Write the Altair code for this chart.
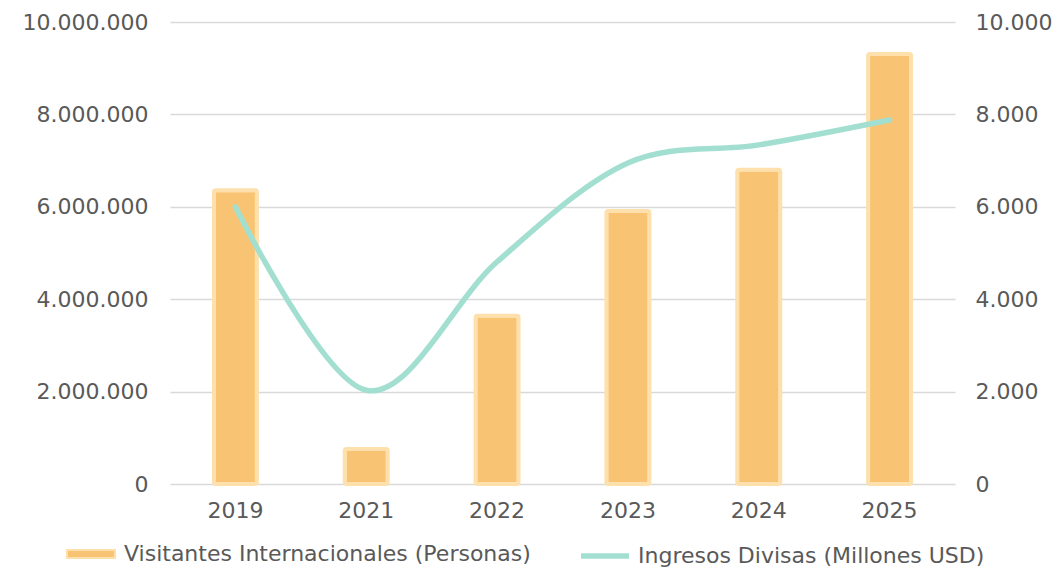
import altair as alt
import pandas as pd

years = ["2019", "2021", "2022", "2023", "2024", "2025"]
visitantes = [6360000, 760000, 3640000, 5910000, 6800000, 9310000]
divisas = [6000, 2030, 4810, 6950, 7340, 7880]

bar_name = "Visitantes Internacionales (Personas)"
line_name = "Ingresos Divisas (Millones USD)"

df = pd.DataFrame({
    "year": years,
    "visitantes": visitantes,
    "divisas": divisas,
    "s_bar": [bar_name] * len(years),
    "s_line": [line_name] * len(years),
})

FONT = "DejaVu Sans"
TXT = "#595959"
ORANGE = "#F8C473"
ORANGE_EDGE = "#FDE0AC"
TEAL = "#A2DFD0"

base = alt.Chart(df)

x = alt.X("year:N", sort=years, title=None,
          scale=alt.Scale(paddingInner=0, paddingOuter=0),
          axis=alt.Axis(domain=False, ticks=False, labelAngle=0, labelPadding=16,
                        labelFontSize=22, labelColor=TXT, labelFont=FONT))

bars = base.mark_bar(size=43, stroke=ORANGE_EDGE, strokeWidth=4, cornerRadius=2).encode(
    x=x,
    y=alt.Y("visitantes:Q", title=None,
            scale=alt.Scale(domain=[0, 10000000]),
            axis=alt.Axis(values=[0, 2000000, 4000000, 6000000, 8000000, 10000000],
                          format=",d", domain=False, ticks=False, tickSize=0,
                          labelPadding=22, labelFontSize=22, labelColor=TXT,
                          labelFont=FONT, gridColor="#D9D9D9", gridWidth=1.5)),
    color=alt.Color("s_bar:N", scale=alt.Scale(domain=[bar_name], range=[ORANGE]),
                    legend=alt.Legend(orient="none", legendX=-104, legendY=507,
                                      padding=0, title=None,
                                      symbolType="M-1,-0.17H1V0.17H-1Z",
                                      symbolSize=2304, symbolStrokeColor=ORANGE_EDGE,
                                      symbolStrokeWidth=2, symbolFillColor=ORANGE,
                                      labelFontSize=22, labelColor=TXT, labelFont=FONT,
                                      labelOffset=8, labelLimit=600, symbolOpacity=1)),
)

line = base.mark_line(interpolate="cardinal", strokeWidth=5.5, strokeCap="round").encode(
    x=x,
    y=alt.Y("divisas:Q", title=None,
            scale=alt.Scale(domain=[0, 10000]),
            axis=alt.Axis(orient="right", values=[0, 2000, 4000, 6000, 8000, 10000],
                          format=",d", domain=False, ticks=False, tickSize=0, grid=False,
                          labelPadding=20, labelFontSize=22, labelColor=TXT,
                          labelFont=FONT)),
    color=alt.Color("s_line:N", scale=alt.Scale(domain=[line_name], range=[TEAL]),
                    legend=alt.Legend(orient="none", legendX=408, legendY=507,
                                      padding=0, title=None, symbolType="stroke",
                                      symbolSize=2304, symbolStrokeWidth=5.5,
                                      labelFontSize=22, labelColor=TXT, labelFont=FONT,
                                      labelOffset=6, labelLimit=600)),
)

chart = alt.layer(bars, line).resolve_scale(y="independent", color="independent").properties(
    width=785, height=462,
    autosize=alt.AutoSizeParams(type="none"),
    padding={"left": 162, "top": 14, "right": 98, "bottom": 84},
).configure(
    locale={"number": {"decimal": ",", "thousands": ".", "grouping": [3], "currency": ["", ""]}}
).configure_view(stroke=None)

chart.save("out.html", embed_options={"renderer": "svg", "actions": False})
